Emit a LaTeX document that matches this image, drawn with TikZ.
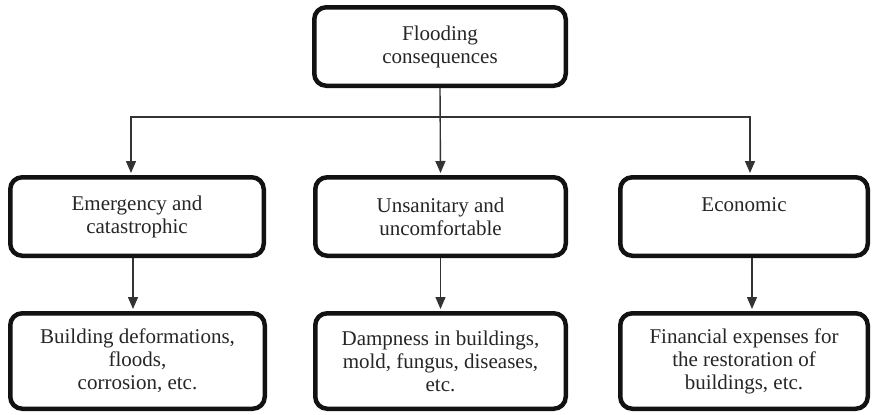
\documentclass[tikz,border=0pt]{standalone}
\usepackage{fontspec}
\setmainfont{Liberation Serif}
\usetikzlibrary{arrows.meta}
\begin{document}
\begin{tikzpicture}[x=1pt,y=-1pt,
  box/.style={draw=black!93, line width=4.5pt, rounded corners=12pt, fill=white,
    inner sep=0pt, align=center, text=black!85,
    font=\fontsize{21}{23}\selectfont},
  conn/.style={draw=black!80, line width=1.4pt, -{Triangle[width=10pt,length=12pt]}, shorten >=2pt},
  both/.style={draw=black!80, line width=1.4pt, {Triangle[width=10pt,length=12pt]}-{Triangle[width=10pt,length=12pt]}, shorten >=2pt, shorten <=2pt}]
\useasboundingbox (0,0) rectangle (873,415);
\node[box, minimum width=251.5pt, minimum height=78.5pt] (top) at (440,46.5) {Flooding\\consequences};
\node[box, minimum width=253.5pt, minimum height=78.5pt] (m1) at (137,216.5) {Emergency and\\catastrophic};
\node[box, minimum width=250.5pt, minimum height=78.5pt] (m2) at (440.5,216.5) {Unsanitary and\\uncomfortable};
\node[box, minimum width=247.5pt, minimum height=78.5pt] (m3) at (744,216.5) {Economic\\\mbox{}};
\node[box, minimum width=254.5pt, minimum height=95.5pt] (b1) at (137.5,361) {Building deformations,\\floods,\\corrosion, etc.};
\node[box, minimum width=250.5pt, minimum height=95.5pt] (b2) at (440.5,361) {Dampness in buildings,\\mold, fungus, diseases,\\etc.};
\node[box, minimum width=247.5pt, minimum height=95.5pt] (b3) at (744,361) {Financial expenses for\\the restoration of\\buildings, etc.};
\coordinate (c1) at (131,117);
\coordinate (c3) at (750,117);
\draw[conn] (top.south) -- (m2.north);
\draw[both] (c1 |- m1.north) -- (c1) -- (c3) -- (c3 |- m3.north);
\draw[conn] ([xshift=-4pt]m1.south) -- ([xshift=-4pt]m1.south |- b1.north);
\draw[conn] (m2.south) -- (b2.north);
\draw[conn] ([xshift=8pt]m3.south) -- ([xshift=8pt]m3.south |- b3.north);
\end{tikzpicture}
\end{document}
